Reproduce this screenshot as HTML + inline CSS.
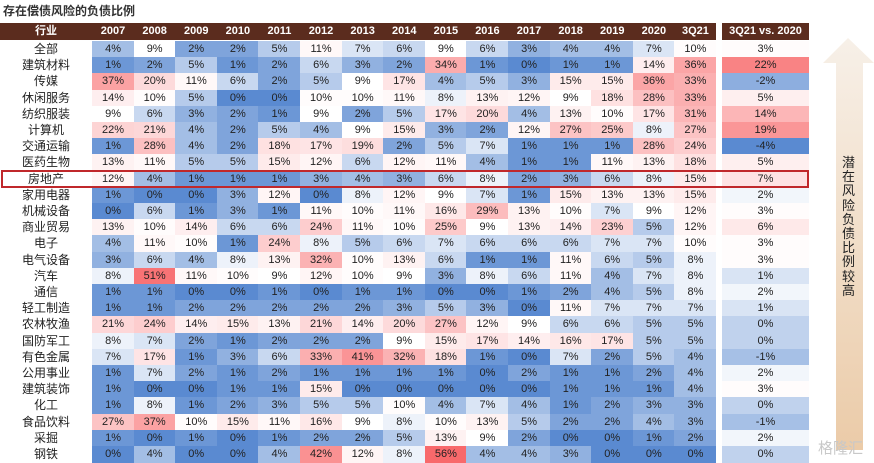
<!DOCTYPE html>
<html><head><meta charset="utf-8">
<style>
body{margin:0;width:874px;height:462px;background:#fff;position:relative;overflow:hidden;font-family:"Liberation Sans","Noto Sans CJK SC",sans-serif;}
.c{position:absolute;box-sizing:border-box;text-align:center;font-size:11px;color:#222;white-space:nowrap;}
.h{background:#5b2c1e;color:#fff;font-weight:bold;font-size:11px;}
</style></head><body>
<div style="position:absolute;left:3px;top:2px;font-size:12px;font-weight:bold;color:#333;font-family:'Liberation Sans','Noto Sans CJK SC',sans-serif;">存在偿债风险的负债比例</div>
<div id="tbl"></div>
<div style="position:absolute;left:1px;top:170px;width:808px;height:18px;border:2px solid #c0282b;box-sizing:border-box;"></div>
<svg style="position:absolute;left:0;top:0" width="874" height="462">
<defs><linearGradient id="ag" x1="0" y1="0" x2="0" y2="1"><stop offset="0" stop-color="#f7f0e8"/><stop offset="1" stop-color="#ebcba8"/></linearGradient></defs>
<polygon points="848,38 874,63 863,63 863,450 836,450 836,63 823,63" fill="url(#ag)"/>
</svg>
<div style="position:absolute;left:842px;top:156px;width:14px;font-size:13px;line-height:14.2px;color:#222;font-family:'Liberation Sans','Noto Sans CJK SC',sans-serif;">潜在风险负债比例较高</div>
<div style="position:absolute;left:818px;top:437px;font-size:15px;color:#c8c8c8;font-family:'Liberation Sans','Noto Sans CJK SC',sans-serif;">格隆汇</div>
<script>
const years=["2007","2008","2009","2010","2011","2012","2013","2014","2015","2016","2017","2018","2019","2020","3Q21"];
const industries=["全部","建筑材料","传媒","休闲服务","纺织服装","计算机","交通运输","医药生物","房地产","家用电器","机械设备","商业贸易","电子","电气设备","汽车","通信","轻工制造","农林牧渔","国防军工","有色金属","公用事业","建筑装饰","化工","食品饮料","采掘","钢铁"];
const values=[
[4,9,2,2,5,11,7,6,9,6,3,4,4,7,10],
[1,2,5,1,2,6,3,2,34,1,0,1,1,14,36],
[37,20,11,6,2,5,9,17,4,5,3,15,15,36,33],
[14,10,5,0,0,10,10,11,8,13,12,9,18,28,33],
[9,6,3,2,1,9,2,5,17,20,4,13,10,17,31],
[22,21,4,2,5,4,9,15,3,2,12,27,25,8,27],
[1,28,4,2,18,17,19,2,5,7,1,1,1,28,24],
[13,11,5,5,15,12,6,12,11,4,1,1,11,13,18],
[12,4,1,1,1,3,4,3,6,8,2,3,6,8,15],
[1,0,0,3,12,0,8,12,9,7,1,15,13,13,15],
[0,6,1,3,1,11,10,11,16,29,13,10,7,9,12],
[13,10,14,6,6,24,11,10,25,9,13,14,23,5,12],
[4,11,10,1,24,8,5,6,7,6,6,6,7,7,10],
[3,6,4,8,13,32,10,13,6,1,1,11,6,5,8],
[8,51,11,10,9,12,10,9,3,8,6,11,4,7,8],
[1,1,0,0,1,0,1,1,0,0,1,2,4,5,8],
[1,1,2,2,2,2,2,3,5,3,0,11,7,7,7],
[21,24,14,15,13,21,14,20,27,12,9,6,6,5,5],
[8,7,2,1,2,2,2,9,15,17,14,16,17,5,5],
[7,17,1,3,6,33,41,32,18,1,0,7,2,5,4],
[1,7,2,1,2,1,1,1,1,0,2,1,1,2,4],
[1,0,0,1,1,15,0,0,0,0,0,1,1,1,4],
[1,8,1,2,3,5,5,10,4,7,4,1,2,3,3],
[27,37,10,15,11,16,9,8,10,13,5,2,2,4,3],
[1,0,1,0,1,2,2,5,13,9,2,0,0,1,2],
[0,4,0,0,4,42,12,8,56,4,4,3,0,0,0]];
const diffs=[3,22,-2,5,14,19,-4,5,7,2,3,6,3,3,1,2,1,0,0,-1,2,3,0,-1,2,0];

const X0=92,CW=41.6,Y0=41,RH=16.2,HY=23,HH=17;
function mix(c,t){t=Math.max(0,Math.min(1,t));return `rgb(${Math.round(255+(c[0]-255)*t)},${Math.round(255+(c[1]-255)*t)},${Math.round(255+(c[2]-255)*t)})`;}
const BLUE=[90,138,209],RED=[248,105,107];
function col(v,mid,lo,hi){return v<mid?mix(BLUE,(mid-v)/(mid-lo)):mix(RED,(v-mid)/(hi-mid));}
const T=document.getElementById('tbl');
function cell(x,y,w,h,txt,cls,bg){const d=document.createElement('div');d.className='c '+(cls||'');d.style.left=x+'px';d.style.top=y+'px';d.style.width=w+'px';d.style.height=h+'px';d.style.lineHeight=h+'px';if(bg)d.style.background=bg;d.textContent=txt;T.appendChild(d);return d;}
let e=cell(0,HY,X0,HH,'行业','h');


years.forEach((y,j)=>{const d=cell(X0+j*CW,HY,CW+0.5,HH,y,'h');

});
e=cell(722,HY,87,HH,'3Q21 vs. 2020','h');


industries.forEach((n,i)=>{const y=Y0+i*RH;
 const l=cell(0,y,X0,RH+0.5,n);l.style.fontSize='12px';
 
 
 values[i].forEach((v,j)=>{const d=cell(X0+j*CW,y,CW+0.5,RH+0.5,v+'%','',col(v,9,0,54));
  
  });
 const dv=diffs[i];const d=cell(722,y,87,RH+0.5,dv+'%','',col(dv,2.5,-4,26));
 
 
});
</script>
</body></html>
